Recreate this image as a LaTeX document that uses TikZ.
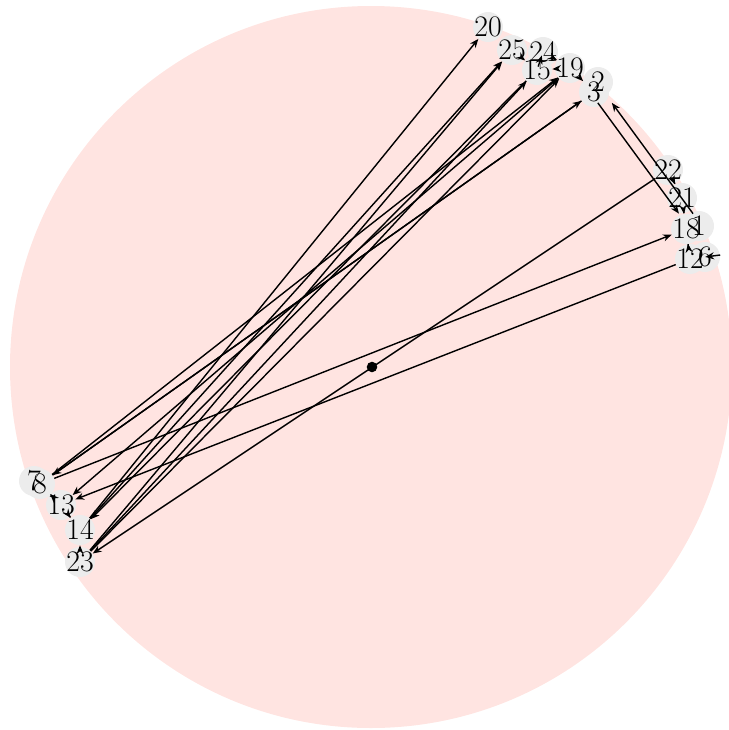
\documentclass[tikz,border=0pt]{standalone}
\usetikzlibrary{arrows.meta}
\definecolor{disc}{RGB}{255,228,225}
\definecolor{vert}{RGB}{236,236,236}
\begin{document}
\begin{tikzpicture}[
    x=0.02cm, y=-0.02cm,
    vtx/.style={circle, fill=vert, inner sep=0pt, minimum size=0.6cm},
    tag/.style={inner sep=0pt, font=\fontsize{17}{17}\selectfont},
    arc/.style={-{Stealth[length=5pt,width=4pt]}, line width=0.8pt}
]
    \useasboundingbox (0,0) rectangle (729,730);
    \fill[disc] (371,367) circle (361);

    % top cluster
    \node[vtx] (v20) at (488,27) {};
    \node[vtx] (v25) at (512,50) {};
    \node[vtx] (v15) at (537,70) {};
    \node[vtx] (v24) at (543,52) {};
    \node[vtx] (v19) at (570,68) {};
    \node[vtx] (v2) at (598,82) {};
    \node[vtx] (v3) at (594,92) {};

    % right cluster
    \node[vtx] (v22) at (668,170) {};
    \node[vtx] (v21) at (682,198) {};
    \node[vtx] (v1) at (699,226) {};
    \node[vtx] (v18) at (686,229) {};
    \node[vtx] (v6) at (705,257) {};
    \node[vtx] (v12) at (690,259) {};

    % left cluster
    \node[vtx] (v7) at (34,481) {};
    \node[vtx] (v8) at (40,484) {};
    \node[vtx] (v13) at (61,505) {};
    \node[vtx] (v14) at (80,530) {};
    \node[vtx] (v23) at (80,562) {};

    % centre
    \node[circle, fill=black, inner sep=0pt, minimum size=6pt] (c) at (372,367) {};

    % labels on top of all discs
    \foreach \n in {20,25,15,24,19,2,3,22,21,1,18,6,12,7,8,13,14,23}
        \node[tag] (t\n) at (v\n) {\n};

    % long arcs
    \draw[arc] (v14) -- (v20);
    \draw[arc] (v23) -- (v25);
    \draw[arc] (v14) -- (v25);
    \draw[arc] (v23) -- (v15);
    \draw[arc] (v15) -- (v14);
    \draw[arc] (v23) -- (v19);
    \draw[arc] (v19) -- (v13);
    \draw[arc] (v8) -- (v3);
    \draw[arc] (v3) -- (v8);
    \draw[arc] (v8) -- (v19);
    \draw[arc] (v8) -- (v18);
    \draw[arc] (v12) -- (v13);
    \draw[arc] (v22) -- (v23);
    \draw[arc] ([xshift=-4]v3.south east) -- ([xshift=-4]v18.north);
    \draw[arc] ([xshift=4]v18.north) -- ([xshift=4]v3.south east);

    % short arcs
    \draw[arc] (v25) -- (v15);
    \draw[arc] (v24) -- (v15);
    \draw[arc] (v19) -- (v15);
    \draw[arc] (v24) -- (v19);
    \draw[arc] (v19) -- (v3);
    \draw[arc] (v22) -- (v21);
    \draw[arc] (v21) -- (v18);
    \draw[arc] (v18) -- (v12);
    \draw[arc] (v6) -- (v12);
    \draw[arc] (v8) -- (v13);
    \draw[arc] (v13) -- (v14);
    \draw[arc] (v23) -- (v14);
\end{tikzpicture}
\end{document}
